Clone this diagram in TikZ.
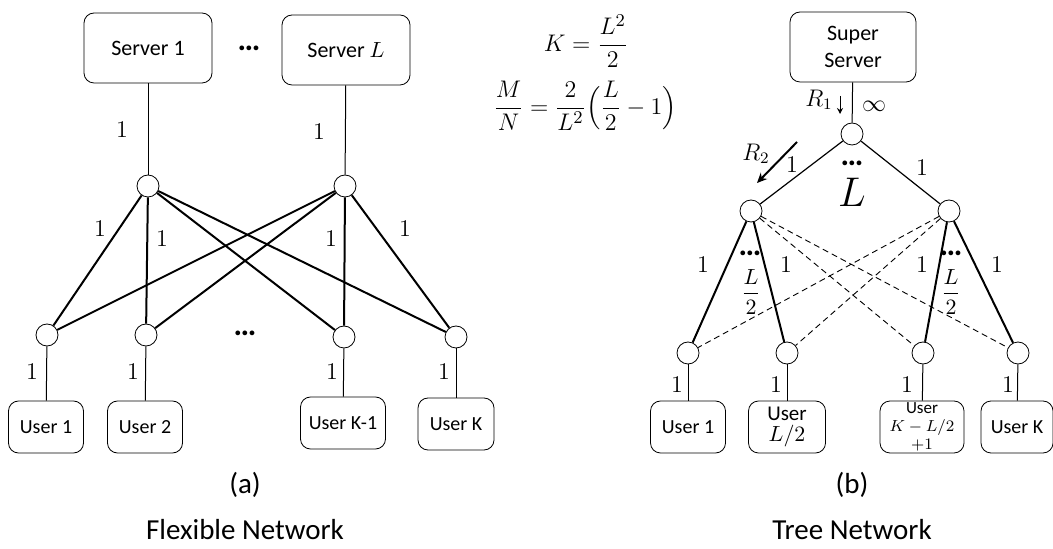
\documentclass[tikz,border=0pt]{standalone}
\usepackage{fontspec}
\setmainfont{Carlito}
\usepackage{amsmath}
\usetikzlibrary{arrows.meta}
\begin{document}
\begin{tikzpicture}[x=0.5pt, y=-0.5pt,
    box/.style = {draw, rounded corners=5pt, inner sep=1pt, align=center,
                  font=\fontsize{10}{12}\selectfont},
    hub/.style = {draw, circle, minimum size=11pt, inner sep=0pt},
    lbl/.style = {inner sep=0pt, font=\fontsize{12}{14}\selectfont},
    dots/.style = {inner sep=0pt, font=\fontsize{16}{18}\selectfont\bfseries},
    caption/.style = {font=\fontsize{14.5}{17}\selectfont},
    feed/.style = {line width=0.5pt},
    wire/.style = {line width=1pt},
    cross/.style = {line width=0.45pt, densely dashed}]
    \useasboundingbox (0,0) rectangle (1053,549);

    % Nodes with manual coordinates: flexible network
    \node[box, minimum width=64pt, minimum height=35pt, font=\fontsize{11}{13}\selectfont] (s1) at (148,48) {Server 1};
    \node[box, minimum width=64pt, minimum height=35pt, font=\fontsize{11}{13}\selectfont] (sL) at (346,50) {Server $L$};
    \node[dots] (sdots) at (249,48) {…};
    \node[hub] (h1) at (148,186) {};
    \node[hub] (h2) at (345,186) {};
    \node[hub] (a1) at (47,335) {};
    \node[hub] (a2) at (146,335) {};
    \node[hub] (a3) at (344,337) {};
    \node[hub] (a4) at (456,337) {};
    \node[dots] (adots) at (245,333) {…};
    \node[box, minimum width=37.5pt, minimum height=26pt] (u1) at (46,427) {User 1};
    \node[box, minimum width=37.5pt, minimum height=26pt] (u2) at (145,427) {User 2};
    \node[box, minimum width=42.5pt, minimum height=26pt] (u3) at (343,423) {User K-1};
    \node[box, minimum width=38pt, minimum height=26pt] (u4) at (456,424) {User K};

    % Labels
    \node[lbl] (la1) at (122,130) {$1$};
    \node[lbl] (la2) at (319,132) {$1$};
    \node[lbl] (la3) at (100,229) {$1$};
    \node[lbl] (la4) at (162,239) {$1$};
    \node[lbl] (la5) at (331,239) {$1$};
    \node[lbl] (la6) at (405,229) {$1$};
    \node[lbl] (la7) at (32,372) {$1$};
    \node[lbl] (la8) at (133,372) {$1$};
    \node[lbl] (la9) at (332,372) {$1$};
    \node[lbl] (la10) at (444,372) {$1$};
    \node[caption] (capa) at (245,485) {(a)};
    \node[caption] (namea) at (245,530) {Flexible Network};

    % Edges
    \draw[feed] (s1) -- (h1);
    \draw[feed] (sL) -- (h2);
    \foreach \h in {h1,h2}
        \foreach \a in {a1,a2,a3,a4}
            \draw[wire] (\h) -- (\a);
    \draw[feed] (a1) -- (u1);
    \draw[feed] (a2) -- (u2);
    \draw[feed] (a3) -- (u3);
    \draw[feed] (a4) -- (u4);

    % Formulas
    \node[font=\fontsize{13}{15}\selectfont] (fK) at (586,41) {$K=\dfrac{L^2}{2}$};
    \node[font=\fontsize{13}{15}\selectfont] (fM) at (585,106) {$\dfrac{M}{N}=\dfrac{2}{L^2}\Bigl(\dfrac{L}{2}-1\Bigr)$};

    % Nodes with manual coordinates: tree network
    \node[box, minimum width=63pt, minimum height=35pt, font=\fontsize{11}{13.5}\selectfont] (ss) at (853,47) {Super\\Server};
    \node[hub] (t0) at (852,134) {};
    \node[hub] (m1) at (751,211) {};
    \node[hub] (m2) at (949,211) {};
    \node[hub] (b1) at (688,353) {};
    \node[hub] (b2) at (787,353) {};
    \node[hub] (b3) at (923,353) {};
    \node[hub] (b4) at (1018,353) {};
    \node[box, minimum width=37.5pt, minimum height=26pt] (v1) at (688,427) {User 1};
    \node[box, minimum width=38.5pt, minimum height=26pt, font=\fontsize{10.5}{10.5}\selectfont] (v2) at (787,427) {User\\$L/2$};
    \node[box, minimum width=42pt, minimum height=26pt, inner sep=0pt, font=\fontsize{8.5}{9}\selectfont] (v3) at (922,427) {User\\$K-L/2$\\$+1$};
    \node[box, minimum width=36pt, minimum height=26pt] (v4) at (1017,427) {User K};

    % Labels
    \node[lbl] (r1) at (819,100) {$R_1$};
    \coordinate (r1a) at (840,96);
    \coordinate (r1b) at (840,114);
    \node[lbl] (inf) at (874,106) {$\infty$};
    \node[lbl] (r2) at (756,154) {$R_2$};
    \coordinate (r2a) at (797,142);
    \coordinate (r2b) at (757,183);
    \node[lbl] (lb1) at (792,165) {$1$};
    \node[lbl] (lb2) at (922,168) {$1$};
    \node[dots] (tdots) at (852,163) {…};
    \node[font=\fontsize{21}{23}\selectfont] (tL) at (852,192) {$L$};
    \node[lbl] (lb3) at (703,265) {$1$};
    \node[lbl] (lb4) at (786,265) {$1$};
    \node[lbl] (lb5) at (922,265) {$1$};
    \node[lbl] (lb6) at (997,265) {$1$};
    \node[dots] (mdots1) at (750,253) {…};
    \node[dots] (mdots2) at (951,253) {…};
    \node[lbl, font=\fontsize{11}{13}\selectfont] (half1) at (751,292) {$\dfrac{L}{2}$};
    \node[lbl, font=\fontsize{11}{13}\selectfont] (half2) at (951,292) {$\dfrac{L}{2}$};
    \node[lbl] (lb7) at (677,385) {$1$};
    \node[lbl] (lb8) at (776,385) {$1$};
    \node[lbl] (lb9) at (907,385) {$1$};
    \node[lbl] (lb10) at (1008,385) {$1$};
    \node[caption] (capb) at (852,485) {(b)};
    \node[caption] (nameb) at (852,530) {Tree Network};

    % Edges
    \draw[feed] (ss) -- (t0);
    \draw[feed, line width=0.6pt] (t0) -- (m1);
    \draw[feed, line width=0.6pt] (t0) -- (m2);
    \draw[wire] (m1) -- (b1);
    \draw[wire] (m1) -- (b2);
    \draw[wire] (m2) -- (b3);
    \draw[wire] (m2) -- (b4);
    \draw[cross] (m1) -- (b3);
    \draw[cross] (m1) -- (b4);
    \draw[cross] (m2) -- (b1);
    \draw[cross] (m2) -- (b2);
    \draw[feed] (b1) -- (v1);
    \draw[feed] (b2) -- (v2);
    \draw[feed] (b3) -- (v3);
    \draw[feed] (b4) -- (v4);
    \draw[feed, -{Stealth[length=3pt, width=3pt]}] (r1a) -- (r1b);
    \draw[wire, -{Stealth[length=5pt, width=4.5pt]}] (r2a) -- (r2b);
\end{tikzpicture}
\end{document}
